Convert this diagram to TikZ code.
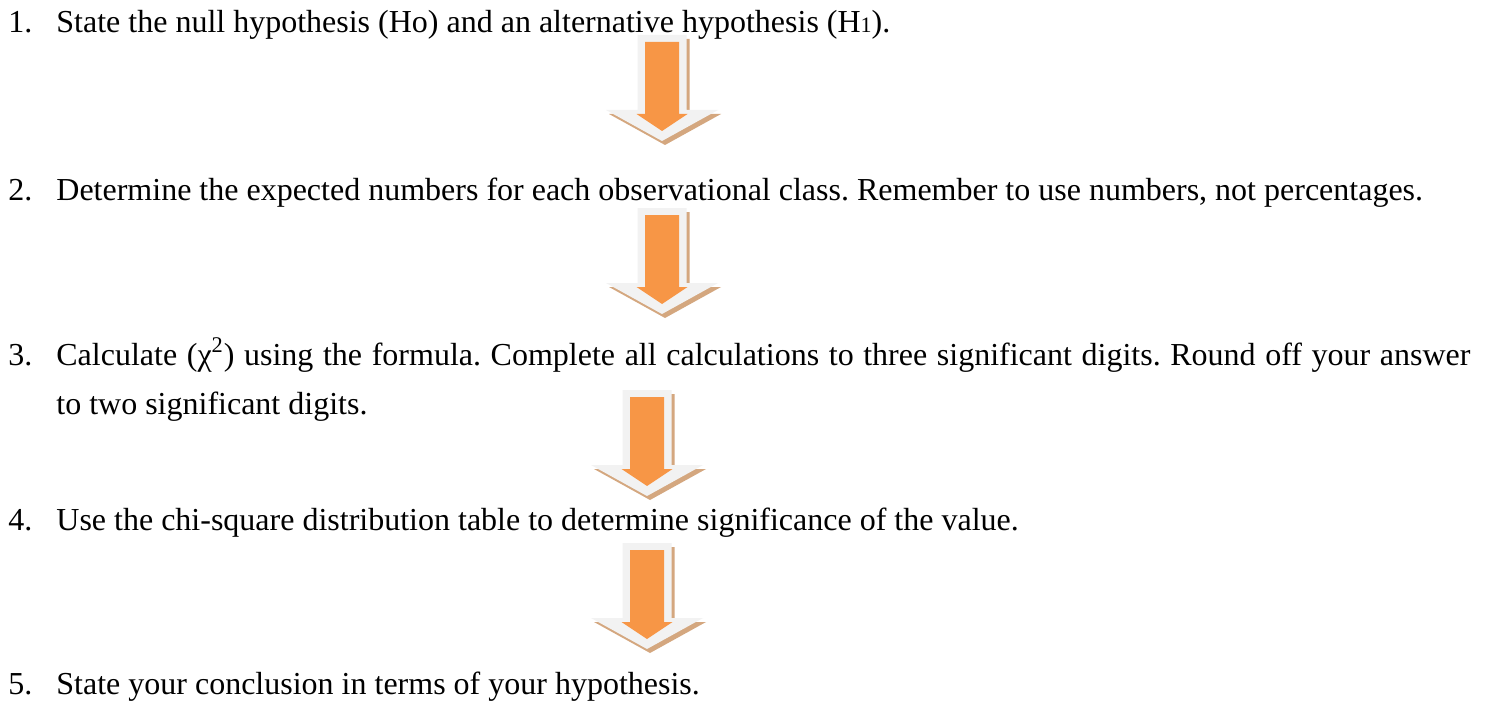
\documentclass[tikz,border=0pt]{standalone}
\usepackage{fontspec}
\setmainfont{Liberation Serif}
\usetikzlibrary{positioning}
\definecolor{arrowfill}{HTML}{F79646}
\definecolor{arrowback}{HTML}{F2F2F2}
\definecolor{arrowshade}{HTML}{D4A77F}
\frenchspacing

\begin{document}
\begin{tikzpicture}[x=0.5pt,y=-0.5pt,
    num/.style={anchor=base west,inner sep=0pt,font=\fontsize{16}{24.5}\selectfont},
    steptext/.style={anchor=base west,inner sep=0pt,font=\fontsize{16}{24.5}\selectfont},
    downarrow/.pic={
      \fill[arrowshade] (-21.5,4) -- (27.5,4) -- (27.5,79) -- (59,79) -- (3,110) -- (-53,79) -- (-21.5,79) -- cycle;
      \fill[arrowback] (-24.5,0) -- (24.5,0) -- (24.5,75) -- (56,75) -- (0,106) -- (-56,75) -- (-24.5,75) -- cycle;
      \fill[arrowfill] (-17,7) -- (17,7) -- (17,79) -- (25.5,79) -- (0,96) -- (-25.5,79) -- (-17,79) -- cycle;
    }
]
\useasboundingbox[fill=white] (0,0) rectangle (1488,701);

\node[num] (n1) at (8,33) {1.};
\node[steptext] (t1) at (56,33) {State the null hypothesis (Ho) and an alternative hypothesis (H{\fontsize{11}{12}\selectfont 1}).};
\node[num] (n2) at (8,200) {2.};
\node[steptext] (t2) at (56,200) {Determine the expected numbers for each observational class. Remember to use numbers, not percentages.};
\node[num] (n3) at (8,365) {3.};
\node[steptext,text width=707pt,align=justify] (t3) at (56,365) {Calculate (χ\textsuperscript{2}) using the formula. Complete all calculations to three significant digits. Round off your answer\linebreak to two significant digits.};
\node[num] (n4) at (8,530) {4.};
\node[steptext] (t4) at (56,530) {Use the chi-square distribution table to determine significance of the value.};
\node[num] (n5) at (8,694) {5.};
\node[steptext] (t5) at (56,694) {State your conclusion in terms of your hypothesis.};

\pic (a1) at (662,35) {downarrow};
\pic (a2) at (662,208) {downarrow};
\pic (a3) at (647,390) {downarrow};
\pic (a4) at (647,543) {downarrow};
\end{tikzpicture}
\end{document}
